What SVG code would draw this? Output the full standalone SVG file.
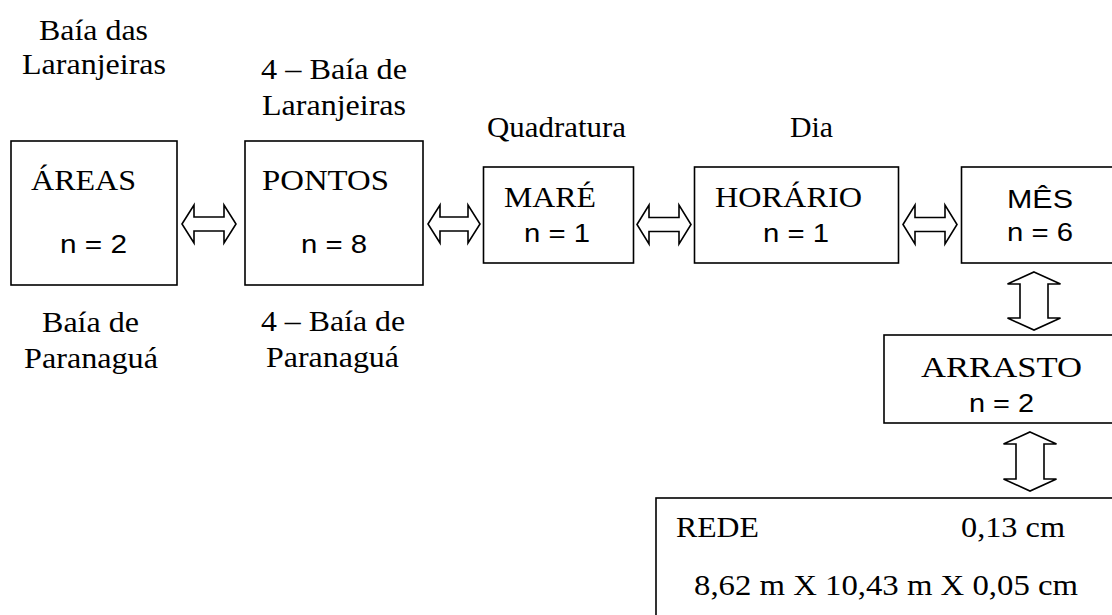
<svg xmlns="http://www.w3.org/2000/svg" width="1112" height="615" viewBox="0 0 1112 615">
<style>
.box{fill:#fff;stroke:#000;stroke-width:1.6}
.arr{fill:#fff;stroke:#000;stroke-width:1.6;stroke-linejoin:miter}
.s{font-family:"Liberation Serif","Times New Roman",serif;font-size:29px;fill:#000}
.a{font-family:"Liberation Sans",Arial,sans-serif;font-size:26px;fill:#000}
</style>
<rect width="1112" height="615" fill="#fff"/>
<g id="labels">
<text class="s" x="39" y="40" textLength="109" lengthAdjust="spacingAndGlyphs">Baía das</text>
<text class="s" x="22" y="74" textLength="144" lengthAdjust="spacingAndGlyphs">Laranjeiras</text>
<text class="s" x="261" y="79" textLength="146" lengthAdjust="spacingAndGlyphs">4 – Baía de</text>
<text class="s" x="262" y="115" textLength="144" lengthAdjust="spacingAndGlyphs">Laranjeiras</text>
<text class="s" x="487" y="137" textLength="139" lengthAdjust="spacingAndGlyphs">Quadratura</text>
<text class="s" x="790" y="137" textLength="43" lengthAdjust="spacingAndGlyphs">Dia</text>
<text class="s" x="42" y="332" textLength="97" lengthAdjust="spacingAndGlyphs">Baía de</text>
<text class="s" x="24" y="368" textLength="134" lengthAdjust="spacingAndGlyphs">Paranaguá</text>
<text class="s" x="261" y="331" textLength="144" lengthAdjust="spacingAndGlyphs">4 – Baía de</text>
<text class="s" x="266" y="367" textLength="133" lengthAdjust="spacingAndGlyphs">Paranaguá</text>
</g>
<g id="connectors">
<path class="arr" d="M182,224 L194,205 L194,217 L224,217 L224,205 L236,224 L224,243 L224,231 L194,231 L194,243 Z"/>
<path class="arr" d="M428,224 L440,205 L440,217 L468,217 L468,205 L480,224 L468,243 L468,231 L440,231 L440,243 Z"/>
<path class="arr" d="M637,224.5 L649,205 L649,217.5 L679,217.5 L679,205 L691,224.5 L679,244 L679,231.5 L649,231.5 L649,244 Z"/>
<path class="arr" d="M903,224.5 L915,205 L915,217.5 L945,217.5 L945,205 L957,224.5 L945,244 L945,231.5 L915,231.5 L915,244 Z"/>
<path class="arr" d="M1034,272 L1060.5,284 L1048,284 L1048,318 L1060.5,318 L1034,330 L1007.5,318 L1020,318 L1020,284 L1007.5,284 Z"/>
<path class="arr" d="M1030,432 L1056.5,444 L1044,444 L1044,479 L1056.5,479 L1030,491 L1003.5,479 L1016,479 L1016,444 L1003.5,444 Z"/>
</g>
<g id="areas">
<rect class="box" x="11" y="141" width="166" height="144"/>
<text class="s" x="31" y="190" textLength="105" lengthAdjust="spacingAndGlyphs">ÁREAS</text>
<text class="a" x="60" y="253" textLength="67" lengthAdjust="spacingAndGlyphs">n = 2</text>
</g>
<g id="pontos">
<rect class="box" x="245" y="141" width="178" height="144"/>
<text class="s" x="262" y="190" textLength="127" lengthAdjust="spacingAndGlyphs">PONTOS</text>
<text class="a" x="301" y="253" textLength="66" lengthAdjust="spacingAndGlyphs">n = 8</text>
</g>
<g id="mare">
<rect class="box" x="483.5" y="167" width="150" height="96"/>
<text class="s" x="504" y="207" textLength="92" lengthAdjust="spacingAndGlyphs">MARÉ</text>
<text class="a" x="524" y="242" textLength="66" lengthAdjust="spacingAndGlyphs">n = 1</text>
</g>
<g id="horario">
<rect class="box" x="694.5" y="167" width="204" height="96"/>
<text class="s" x="715" y="207" textLength="147" lengthAdjust="spacingAndGlyphs">HORÁRIO</text>
<text class="a" x="763" y="242" textLength="66" lengthAdjust="spacingAndGlyphs">n = 1</text>
</g>
<g id="mes">
<rect class="box" x="961.5" y="167" width="200" height="96"/>
<text class="a" x="1007" y="208" textLength="66" lengthAdjust="spacingAndGlyphs">MÊS</text>
<text class="a" x="1007" y="241" textLength="66" lengthAdjust="spacingAndGlyphs">n = 6</text>
</g>
<g id="arrasto">
<rect class="box" x="884" y="335" width="300" height="88"/>
<text class="s" x="921" y="377" textLength="161" lengthAdjust="spacingAndGlyphs">ARRASTO</text>
<text class="a" x="969" y="412" textLength="65" lengthAdjust="spacingAndGlyphs">n = 2</text>
</g>
<g id="rede">
<rect class="box" x="656" y="498" width="500" height="200"/>
<text class="s" x="676" y="537" textLength="83" lengthAdjust="spacingAndGlyphs">REDE</text>
<text class="s" x="961" y="537" textLength="104" lengthAdjust="spacingAndGlyphs">0,13 cm</text>
<text class="s" x="694" y="595" textLength="384" lengthAdjust="spacingAndGlyphs">8,62 m X 10,43 m X 0,05 cm</text>
</g>
</svg>
